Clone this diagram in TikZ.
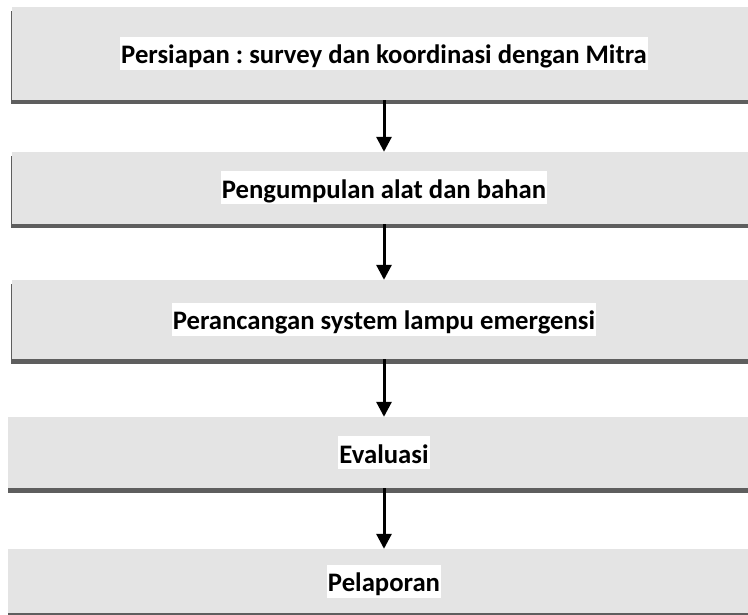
\documentclass[tikz,border=0pt]{standalone}
\usepackage{fontspec}
\setmainfont{Carlito}
\frenchspacing
\usetikzlibrary{shadows,arrows.meta}
\definecolor{boxgray}{HTML}{E4E4E4}
\definecolor{shadowgray}{HTML}{5E5E5E}
\tikzset{
  stagebox/.style={draw=none, fill=boxgray, inner sep=0pt, minimum width=744pt,
    drop shadow={shadow xshift=-1pt, shadow yshift=-4.5pt, fill=shadowgray, opacity=1}},
  stageboxwide/.style={draw=none, fill=boxgray, inner sep=0pt, minimum width=752pt,
    drop shadow={shadow xshift=0pt, shadow yshift=-4.5pt, fill=shadowgray, opacity=1}},
  stagelabel/.style={fill=white, inner sep=0pt, inner xsep=1pt, text height=27pt, text depth=6pt,
    font=\fontsize{26.7pt}{32pt}\selectfont\bfseries},
  flowarrow/.style={line width=3pt, -{Triangle[width=15pt,length=15pt]}}
}
\begin{document}
\begin{tikzpicture}[x=1pt,y=-1pt]
\useasboundingbox (0,0) rectangle (748,615);
\clip (0,0) rectangle (748,615);
\fill[white] (0,0) rectangle (748,615);
\node[stagebox, minimum height=93pt] (b1) at (384,53.5) {};
\node[stagebox, minimum height=72pt] (b2) at (384,188) {};
\node[stagebox, minimum height=79pt] (b3) at (384,319.5) {};
\node[stageboxwide, minimum height=71pt] (b4) at (384,452.5) {};
\node[stageboxwide, minimum height=64pt] (b5) at (384,581) {};
\node[stagelabel] (t1) at (b1.center) {\frenchspacing Persiapan : survey dan koordinasi dengan Mitra};
\node[stagelabel] (t2) at (b2.center) {Pengumpulan alat dan bahan};
\node[stagelabel] (t3) at (b3.center) {Perancangan system lampu emergensi};
\node[stagelabel] (t4) at (b4.center) {Evaluasi};
\node[stagelabel] (t5) at (b5.center) {Pelaporan};
\draw[flowarrow] (b1.south) -- (b2.north);
\draw[flowarrow] (b2.south) -- (b3.north);
\draw[flowarrow] (b3.south) -- (b4.north);
\draw[flowarrow] (b4.south) -- (b5.north);
\end{tikzpicture}
\end{document}
